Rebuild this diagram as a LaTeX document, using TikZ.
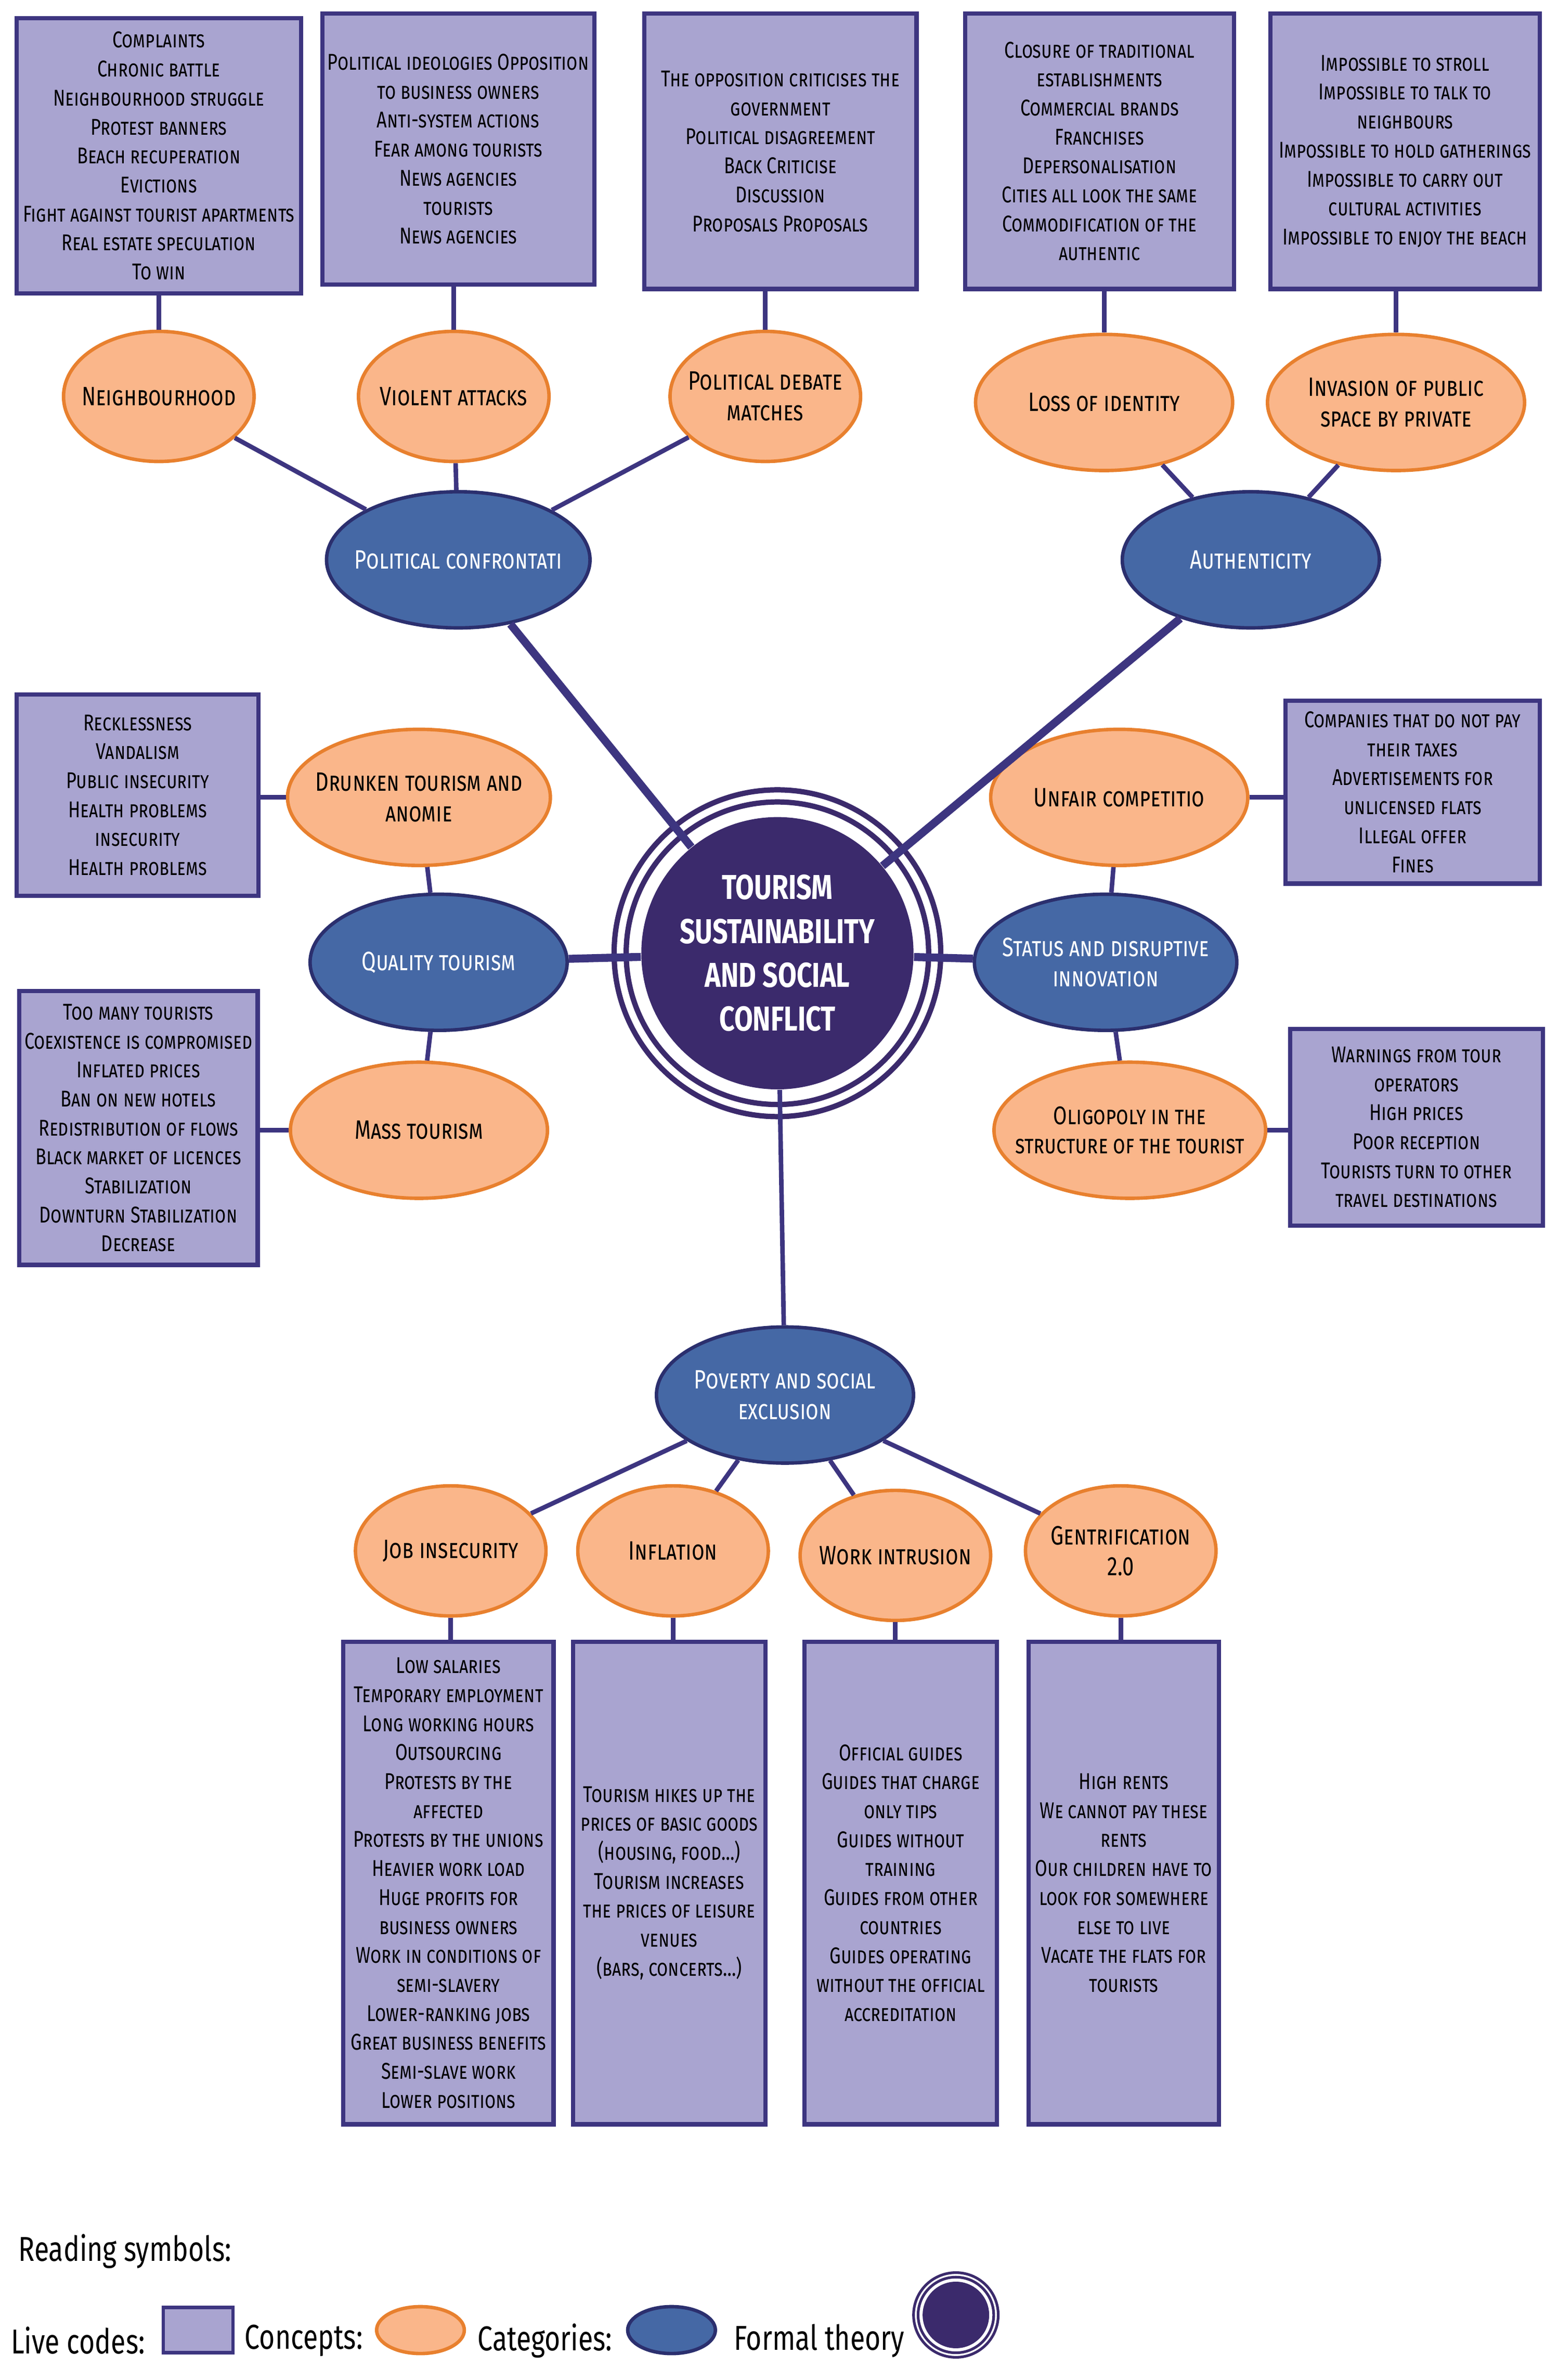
\documentclass[tikz,border=0pt]{standalone}
\usepackage{fontspec}
\usetikzlibrary{shapes.geometric}
\setmainfont{Fira Sans}[FakeStretch=0.78]
\definecolor{codefill}{HTML}{A9A4D0}
\definecolor{linecol}{HTML}{3D3580}
\definecolor{conceptfill}{HTML}{FAB68A}
\definecolor{conceptline}{HTML}{E8802E}
\definecolor{catfill}{HTML}{4568A5}
\definecolor{catline}{HTML}{2B2F6E}
\definecolor{theory}{HTML}{3B2A6C}
\begin{document}
\begin{tikzpicture}[x=0.02cm, y=-0.02cm,
	code/.style={rectangle, draw=linecol, line width=1.6pt, fill=codefill, align=center, font=\fontsize{8.6}{10.9}\selectfont\scshape, inner sep=2pt},
	concept/.style={ellipse, draw=conceptline, line width=1.3pt, fill=conceptfill, align=center, minimum width=2.52cm, minimum height=1.72cm, inner sep=-4pt, font=\fontsize{10}{11.5}\selectfont\scshape},
	wide/.style={minimum width=3.4cm, minimum height=1.8cm},
	category/.style={ellipse, draw=catline, line width=1.3pt, fill=catfill, text=white, align=center, minimum width=3.4cm, minimum height=1.8cm, inner sep=-4pt, font=\fontsize{10}{11.5}\selectfont\scshape},
	link/.style={draw=linecol, line width=1.7pt},
	thick link/.style={draw=linecol, line width=3pt},
	legend/.style={font=\fontsize{13}{15}\selectfont}]
	\useasboundingbox (0,0) rectangle (1030,1573);
	\fill[white] (0,0) rectangle (1030,1573);

	% Formal theory
	\draw[theory, line width=2pt, fill=white] (514,630) circle (2.16cm);
	\draw[theory, line width=2pt] (514,630) circle (2.0cm);
	\node[circle, fill=theory, text=white, minimum size=3.6cm, align=center, inner sep=0pt, font=\fontsize{13}{16.5}\selectfont\bfseries] (core) at (514,630) {TOURISM\\SUSTAINABILITY\\AND SOCIAL\\CONFLICT};

	% Categories
	\node[category] (polit) at (303,370) {Political confrontati};
	\node[category] (authen) at (827,370) {Authenticity};
	\node[category] (quality) at (290,636) {Quality tourism};
	\node[category] (status) at (731,636) {Status and disruptive\\innovation};
	\node[category] (poverty) at (519,922) {Poverty and social\\exclusion};

	% Concepts
	\node[concept] (neigh) at (105,262) {Neighbourhood};
	\node[concept] (violent) at (300,262) {Violent attacks};
	\node[concept] (debate) at (506,262) {Political debate\\matches};
	\node[concept, wide] (identity) at (730,266) {Loss of identity};
	\node[concept, wide] (invasion) at (923,266) {Invasion of public\\space by private};
	\node[concept, wide] (drunk) at (277,527) {Drunken tourism and\\anomie};
	\node[concept, wide] (mass) at (277,747) {Mass tourism};
	\node[concept, wide] (unfair) at (740,527) {Unfair competitio};
	\node[concept, wide, inner sep=-7pt, font=\fontsize{9.6}{11}\selectfont\scshape] (oligo) at (747,747) {Oligopoly in the\\structure of the tourist};
	\node[concept] (job) at (298,1025) {Job insecurity};
	\node[concept] (infl) at (445,1025) {Inflation};
	\node[concept] (work) at (592,1028) {Work intrusion};
	\node[concept] (gentri) at (741,1025) {Gentrification\\2.0};

	% Live codes
	\node[code, minimum width=3.76cm, minimum height=3.64cm] (neighC) at (105,103) {Complaints\\Chronic battle\\Neighbourhood struggle\\Protest banners\\Beach recuperation\\Evictions\\Fight against tourist apartments\\Real estate speculation\\To win};
	\node[code, minimum width=3.56cm, minimum height=3.58cm] (violentC) at (303,98.5) {Political ideologies Opposition\\to business owners\\Anti-system actions\\Fear among tourists\\News agencies\\tourists\\News agencies};
	\node[code, minimum width=3.6cm, minimum height=3.64cm] (debateC) at (516,100) {The opposition criticises the\\government\\Political disagreement\\Back Criticise\\Discussion\\Proposals Proposals};
	\node[code, minimum width=3.56cm, minimum height=3.64cm] (identityC) at (727,100) {Closure of traditional\\establishments\\Commercial brands\\Franchises\\Depersonalisation\\Cities all look the same\\Commodification of the\\authentic};
	\node[code, minimum width=3.56cm, minimum height=3.64cm] (invasionC) at (929,100) {Impossible to stroll\\Impossible to talk to\\neighbours\\Impossible to hold gatherings\\Impossible to carry out\\cultural activities\\Impossible to enjoy the beach};
	\node[code, minimum width=3.2cm, minimum height=2.66cm] (drunkC) at (91,525.5) {Recklessness\\Vandalism\\Public insecurity\\Health problems\\insecurity\\Health problems};
	\node[code, minimum width=3.14cm, minimum height=3.62cm] (massC) at (91.5,745.5) {Too many tourists\\Coexistence is compromised\\Inflated prices\\Ban on new hotels\\Redistribution of flows\\Black market of licences\\Stabilization\\Downturn Stabilization\\Decrease};
	\node[code, minimum width=3.36cm, minimum height=2.42cm] (unfairC) at (934,523.5) {Companies that do not pay\\their taxes\\Advertisements for\\unlicensed flats\\Illegal offer\\Fines};
	\node[code, minimum width=3.34cm, minimum height=2.6cm] (oligoC) at (936.5,745) {Warnings from tour\\operators\\High prices\\Poor reception\\Tourists turn to other\\travel destinations};
	\node[code, minimum width=2.78cm, minimum height=6.38cm] (jobC) at (296.5,1244.5) {Low salaries\\Temporary employment\\Long working hours\\Outsourcing\\Protests by the\\affected\\Protests by the unions\\Heavier work load\\Huge profits for\\business owners\\Work in conditions of\\semi-slavery\\Lower-ranking jobs\\Great business benefits\\Semi-slave work\\Lower positions};
	\node[code, minimum width=2.54cm, minimum height=6.38cm] (inflC) at (442.5,1244.5) {Tourism hikes up the\\prices of basic goods\\(housing, food\dots)\\Tourism increases\\the prices of leisure\\venues\\(bars, concerts\dots)};
	\node[code, minimum width=2.54cm, minimum height=6.38cm] (workC) at (595.5,1244.5) {Official guides\\Guides that charge\\only tips\\Guides without\\training\\Guides from other\\countries\\Guides operating\\without the official\\accreditation};
	\node[code, minimum width=2.52cm, minimum height=6.38cm] (gentriC) at (743,1244.5) {High rents\\We cannot pay these\\rents\\Our children have to\\look for somewhere\\else to live\\Vacate the flats for\\tourists};

	% Connections
	\foreach \c in {neigh, violent, debate, identity, invasion}
		\draw[link] (\c.north |- \c C.south) -- (\c.north);
	\foreach \c in {job, infl, work, gentri}
		\draw[link] (\c.south |- \c C.north) -- (\c.south);
	\foreach \c in {drunk, mass}
		\draw[link] (\c C.east |- \c) -- (\c);
	\foreach \c in {unfair, oligo}
		\draw[link] (\c C.west |- \c) -- (\c);
	\foreach \c/\k in {neigh/polit, violent/polit, debate/polit, identity/authen, invasion/authen, drunk/quality, mass/quality, unfair/status, oligo/status, job/poverty, infl/poverty, work/poverty, gentri/poverty}
		\draw[link] (\c) -- (\k);
	\foreach \k in {polit, authen, quality, status}
		\draw[thick link] (\k) -- (core);
	\draw[link] (core) -- (poverty);

	% Reading symbols
	\node[legend, anchor=west] (legendT) at (6,1488) {Reading symbols:};
	\node[legend, anchor=east] (lcode) at (102,1547) {Live codes:};
	\node[code, minimum width=0.92cm, minimum height=0.6cm, line width=1.3pt] (lbox) at (131,1540) {};
	\node[legend, anchor=east] (lconc) at (246,1547) {Concepts:};
	\node[ellipse, draw=conceptline, line width=1.3pt, fill=conceptfill, minimum width=1.16cm, minimum height=0.62cm] (lell) at (278,1540) {};
	\node[legend, anchor=east] (lcat) at (411,1547) {Categories:};
	\node[ellipse, draw=catline, line width=1.3pt, fill=catfill, minimum width=1.16cm, minimum height=0.62cm] (lcatE) at (444,1540) {};
	\node[legend, anchor=west] (lth) at (479,1547) {Formal theory};
	\draw[theory, line width=1pt] (632,1530) circle (0.56cm);
	\draw[theory, line width=1pt] (632,1530) circle (0.5cm);
	\node[circle, fill=theory, minimum size=0.88cm, inner sep=0pt] (lthC) at (632,1530) {};
\end{tikzpicture}
\end{document}
